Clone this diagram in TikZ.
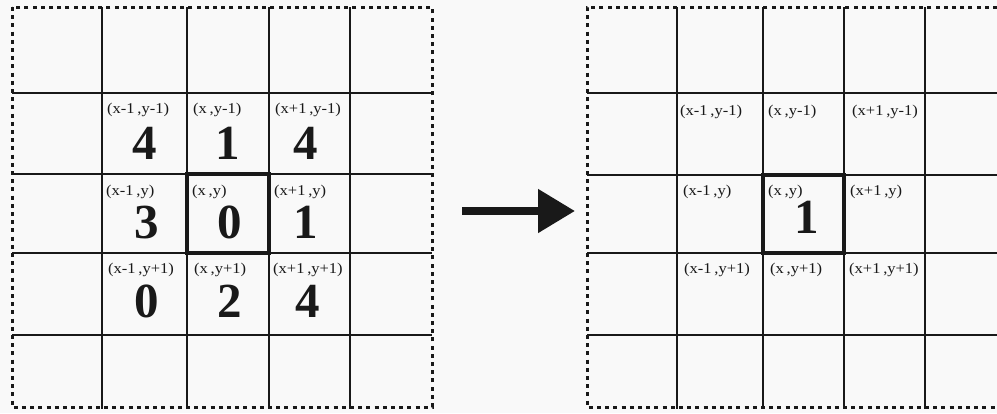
\documentclass[tikz,border=0pt]{standalone}
\usepackage{fontspec}
\setmainfont{Liberation Serif}
\usetikzlibrary{arrows.meta}
\definecolor{bg}{RGB}{249,249,249}
\definecolor{ink}{RGB}{25,25,25}
\tikzset{
  gridline/.style={draw=ink, line width=2.4pt},
  border/.style={draw=ink, line width=3pt, dash pattern=on 4pt off 4.2pt},
  focus/.style={draw=ink, line width=3.4pt},
  coordlabel/.style={anchor=north west, inner sep=0pt, font=\fontsize{15}{16}\selectfont, xscale=1.1, text=ink},
  bignum/.style={anchor=center, inner sep=0pt, font=\fontsize{49}{50}\selectfont\bfseries, text=ink},
  bigarrow/.style={draw=ink, line width=8pt, -{Triangle[length=37pt,width=42pt]}}
}
\begin{document}
\begin{tikzpicture}[x=1pt,y=-1pt]
\useasboundingbox[fill=bg] (0,0) rectangle (997,413);
% ---------- left grid ----------
\foreach \xx in {102,187,269,350} \draw[gridline] (\xx,7) -- (\xx,409);
\foreach \yy in {93,174,253,335} \draw[gridline] (12,\yy) -- (432,\yy);
\draw[border] (12,7) rectangle (432,407);
\draw[focus] (187,174) rectangle (269,253);
% labels
\node[coordlabel] (la1) at (107,103) {(x-1\,,y-1)};
\node[coordlabel] (la2) at (193,103) {(x\,,y-1)};
\node[coordlabel] (la3) at (275,103) {(x+1\,,y-1)};
\node[coordlabel] (la4) at (106,185) {(x-1\,,y)};
\node[coordlabel] (la5) at (192,185) {(x\,,y)};
\node[coordlabel] (la6) at (274,185) {(x+1\,,y)};
\node[coordlabel] (la7) at (108,263) {(x-1\,,y+1)};
\node[coordlabel] (la8) at (194,263) {(x\,,y+1)};
\node[coordlabel] (la9) at (273,263) {(x+1\,,y+1)};
% numbers
\node[bignum] (na1) at (145,143.5) {4};
\node[bignum] (na2) at (228,143.5) {1};
\node[bignum] (na3) at (306,143.5) {4};
\node[bignum] (na4) at (147,222.5) {3};
\node[bignum] (na5) at (230,222.5) {0};
\node[bignum] (na6) at (306,222.5) {1};
\node[bignum] (na7) at (147,301.5) {0};
\node[bignum] (na8) at (230,301.5) {2};
\node[bignum] (na9) at (308,301.5) {4};
% ---------- arrow ----------
\coordinate (arrS) at (462,211);
\coordinate (arrE) at (575,211);
\draw[bigarrow] (arrS) -- (arrE);
% ---------- right grid ----------
\foreach \xx in {677,763,844,925} \draw[gridline] (\xx,7) -- (\xx,409);
\foreach \yy in {93,175,253,335} \draw[gridline] (587,\yy) -- (997,\yy);
\draw[border] (997,7) -- (587,7) -- (587,407) -- (997,407);
\draw[focus] (763,175) rectangle (844,253);
\node[coordlabel] (lb1) at (680,105) {(x-1\,,y-1)};
\node[coordlabel] (lb2) at (768,105) {(x\,,y-1)};
\node[coordlabel] (lb3) at (852,105) {(x+1\,,y-1)};
\node[coordlabel] (lb4) at (683,185) {(x-1\,,y)};
\node[coordlabel] (lb5) at (768,185) {(x\,,y)};
\node[coordlabel] (lb6) at (850,185) {(x+1\,,y)};
\node[coordlabel] (lb7) at (684,263) {(x-1\,,y+1)};
\node[coordlabel] (lb8) at (770,263) {(x\,,y+1)};
\node[coordlabel] (lb9) at (849,263) {(x+1\,,y+1)};
\node[bignum] (nb5) at (807,217.5) {1};
\end{tikzpicture}
\end{document}
